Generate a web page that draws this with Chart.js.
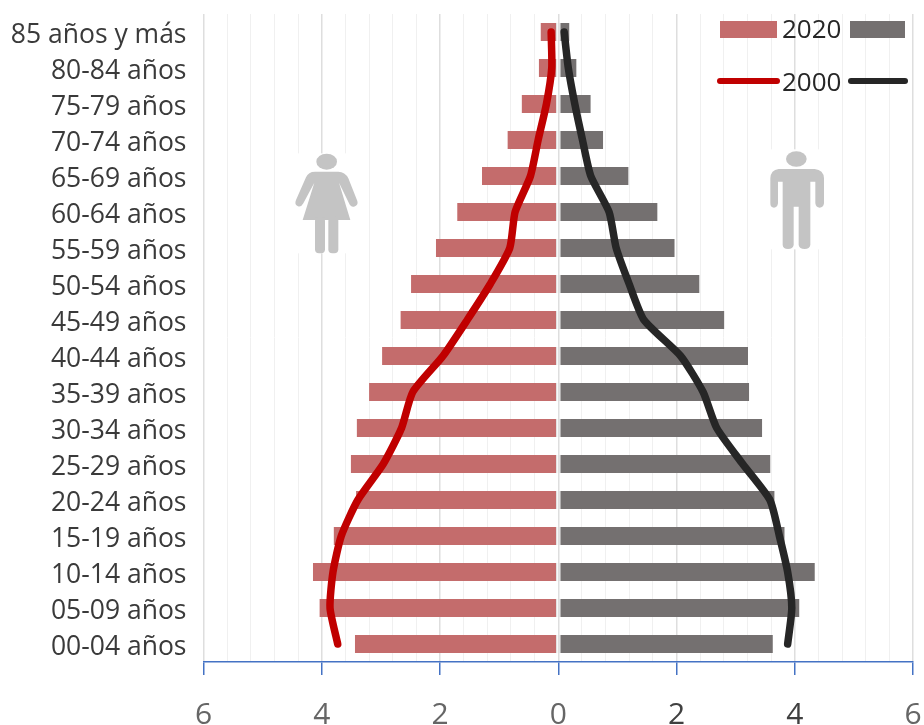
<!DOCTYPE html>
<html>
<head>
<meta charset="utf-8">
<title>Pirámide de población</title>
<script src="https://cdn.jsdelivr.net/npm/chart.js@4"></script>
<style>
  html, body { margin: 0; padding: 0; background: #fff; overflow: hidden; }
  #wrap { position: relative; width: 924px; height: 725px; filter: blur(0.5px); }
  canvas { position: absolute; left: 0; top: 0; }
  svg { position: absolute; left: 0; top: 0; }
  .key { position: absolute; }
  .year { position: absolute; left: 782px; font: 26px "Open Sans", sans-serif; color: #262626; line-height: 30px; }
</style>
</head>
<body>
<div id="wrap">
  <canvas id="pyramid" width="924" height="725"></canvas>

  <svg width="924" height="725" viewBox="0 0 2772 2175">
    <!-- woman, drawn in 3x coordinates -->
    <rect x="885" y="460" width="190" height="300" fill="#fff"/>
    <g fill="#c4c4c4">
      <ellipse cx="980" cy="485" rx="31" ry="24"/>
      <path d="M945 515 H1015 Q1035 515 1045 535 L1072 603 Q1076 616 1062 620 Q1052 622 1047 610 L1017 548 L1051 660 H908 L943 548 L910 610 Q904 622 894 619 Q882 614 888 600 L918 532 Q925 515 945 515 Z"/>
      <rect x="945" y="650" width="30" height="110" rx="12"/>
      <rect x="985" y="650" width="30" height="110" rx="12"/>
    </g>
    <!-- man -->
    <rect x="2305" y="448" width="176" height="300" fill="#fff"/>
    <g fill="#c4c4c4" transform="translate(1386 0)">
      <ellipse cx="1003" cy="477" rx="31" ry="23"/>
      <path d="M950 507 H1058 Q1085 510 1086 535 V610 Q1084 623 1073 623 Q1062 623 1060 610 V545 H1045 V735 Q1043 747 1028 747 Q1012 747 1010 735 V620 H995 V735 Q993 747 978 747 Q963 747 962 735 V545 H948 V610 Q946 623 936 623 Q925 623 925 610 V535 Q926 510 950 507 Z"/>
    </g>
  </svg>

  <div class="key" style="left:720px;top:21px;width:57px;height:17px;background:#c46c6c"></div>
  <div class="key" style="left:850px;top:21px;width:55px;height:17px;background:#747070"></div>
  <div class="key" style="left:717px;top:78px;width:63px;height:6px;border-radius:3px;background:#c00000"></div>
  <div class="key" style="left:848px;top:78px;width:60px;height:6px;border-radius:3px;background:#262626"></div>
  <div class="year" style="top:13px">2020</div>
  <div class="year" style="top:66px">2000</div>
</div>

<script>
const categories = ['85 años y más','80-84 años','75-79 años','70-74 años','65-69 años','60-64 años','55-59 años','50-54 años','45-49 años','40-44 años','35-39 años','30-34 años','25-29 años','20-24 años','15-19 años','10-14 años','05-09 años','00-04 años'];

const mujeres2020 = [-0.30,-0.33,-0.62,-0.86,-1.29,-1.71,-2.07,-2.49,-2.67,-2.98,-3.20,-3.41,-3.51,-3.42,-3.80,-4.15,-4.04,-3.44];
const hombres2020 = [0.19,0.31,0.55,0.76,1.19,1.68,1.97,2.39,2.81,3.21,3.23,3.45,3.59,3.66,3.83,4.34,4.08,3.63];
const mujeres2000 = [-0.12,-0.11,-0.20,-0.34,-0.47,-0.73,-0.82,-1.15,-1.54,-1.95,-2.46,-2.65,-2.96,-3.39,-3.67,-3.81,-3.86,-3.73];
const hombres2000 = [0.10,0.17,0.28,0.41,0.55,0.86,0.98,1.20,1.45,2.07,2.45,2.68,3.12,3.58,3.74,3.88,3.95,3.88];

const isMajor = v => Math.round(v * 10) % 20 === 0;

// bars first, lines sit on top of them
const barStyle = { type: 'bar', grouped: false, categoryPercentage: 1, barPercentage: 0.5, borderSkipped: false, borderColor: '#e2e2e2', order: 2 };
const lineStyle = { type: 'line', borderWidth: 7.5, borderCapStyle: 'round', borderJoinStyle: 'round', pointRadius: 0, tension: 0.2, clip: false, order: 1 };

new Chart(document.getElementById('pyramid').getContext('2d'), {
  data: {
    labels: categories,
    datasets: [
      { ...barStyle, label: 'Mujeres 2020', data: mujeres2020, backgroundColor: '#c46c6c', borderWidth: { right: 1.5 } },
      { ...barStyle, label: 'Hombres 2020', data: hombres2020, backgroundColor: '#747070', borderWidth: { left: 1.5 } },
      { ...lineStyle, label: 'Mujeres 2000', data: mujeres2000, borderColor: '#c00000' },
      { ...lineStyle, label: 'Hombres 2000', data: hombres2000, borderColor: '#262626' }
    ]
  },
  options: {
    indexAxis: 'y',
    responsive: false,
    animation: false,
    layout: { padding: { top: 14, right: 11, left: 0, bottom: 0 } },
    plugins: { legend: { display: false }, tooltip: { enabled: false } },
    scales: {
      x: {
        min: -6,
        max: 6,
        // the plot box is fixed, labels must not push it in
        afterFit: s => { s.height = 63; s.paddingLeft = 0; s.paddingRight = 0; },
        border: { color: '#4472c4', width: 1.5 },
        grid: {
          color: c => isMajor(c.tick.value) ? '#dedede' : '#f0f0f0',
          lineWidth: c => isMajor(c.tick.value) ? 1.5 : 1,
          tickColor: c => isMajor(c.tick.value) ? '#4472c4' : 'rgba(0,0,0,0)',
          tickLength: 13
        },
        ticks: {
          stepSize: 0.4,
          autoSkip: false,
          maxRotation: 0,
          padding: 22,
          color: c => (c.tick.value > 1 && c.tick.value < 5) ? '#404040' : '#666666',
          font: { family: '"Open Sans"', size: 30 },
          callback: v => isMajor(v) ? String(Math.abs(Math.round(v))) : ''
        }
      },
      y: {
        afterFit: s => { s.width = 203.5; s.paddingTop = 0; s.paddingBottom = 0; },
        grid: { display: false },
        border: { display: false },
        ticks: {
          padding: 9,
          labelOffset: 3.5,
          color: '#3a3a3a',
          font: { family: '"Open Sans"', size: 26.5 }
        }
      }
    }
  }
});
</script>
</body>
</html>
